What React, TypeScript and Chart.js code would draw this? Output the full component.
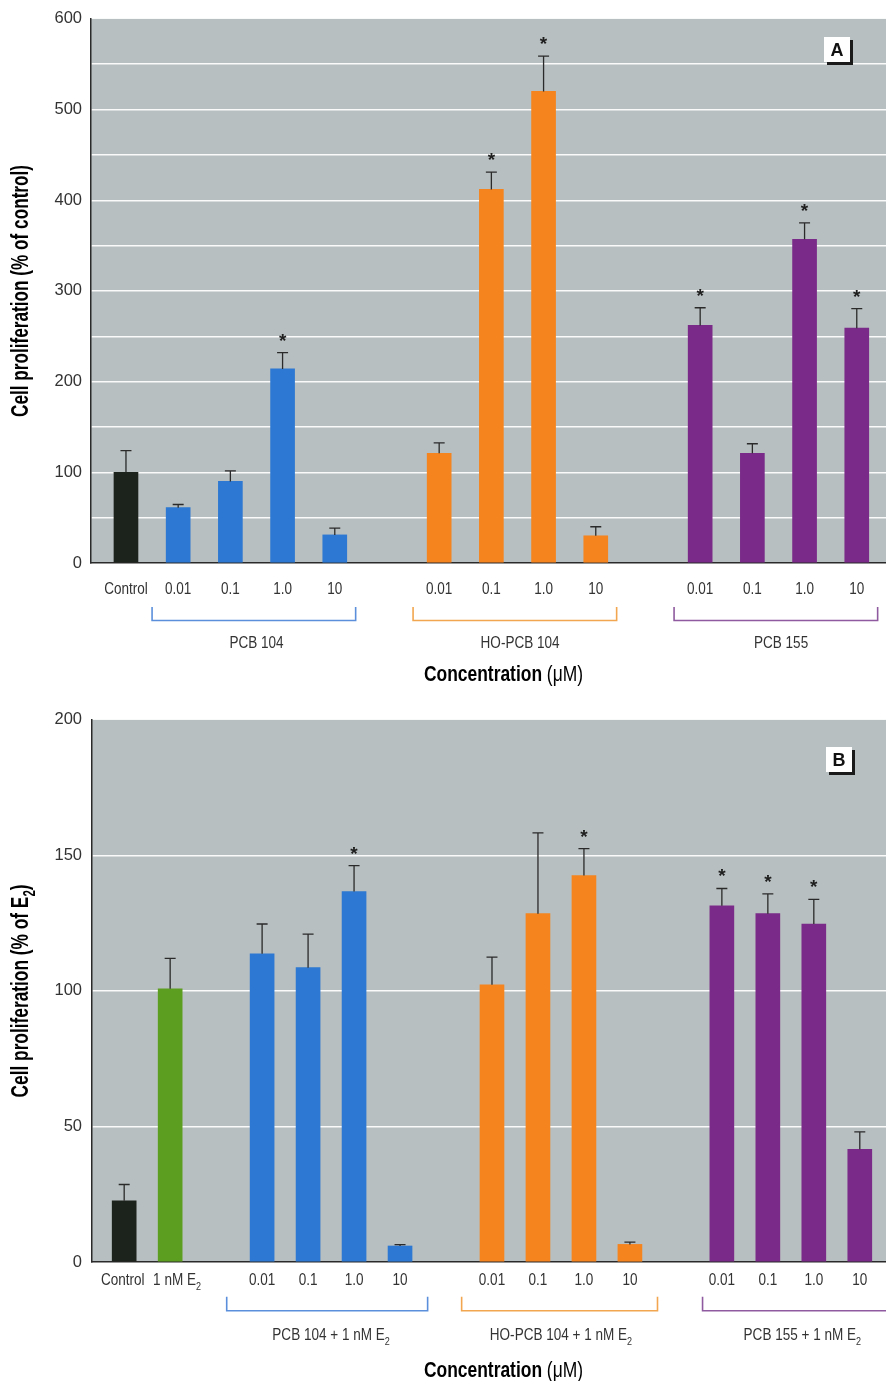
import React, { useEffect, useRef } from 'react';
import { Chart, registerables } from 'chart.js';
Chart.register(...registerables);

// ---------------- DATA: panel A ----------------
const CONC_TICKS = ['0.01', '0.1', '1.0', '10'];
const A_CONTROL_TICKS = ['Control'];
const A_CONTROL_VALUES = [100];
const A_CONTROL_ERRORS = [24];
const A_CONTROL_SIG = [false];
const A_PCB104_VALUES = [61, 90, 214, 31];
const A_PCB104_ERRORS = [3.5, 11.5, 18, 7.5];
const A_PCB104_SIG = [false, false, true, false];
const A_HOPCB104_VALUES = [121, 412, 520, 30];
const A_HOPCB104_ERRORS = [11.5, 19, 39, 10];
const A_HOPCB104_SIG = [false, true, true, false];
const A_PCB155_VALUES = [262, 121, 357, 259];
const A_PCB155_ERRORS = [19.5, 10.5, 18, 21.5];
const A_PCB155_SIG = [true, false, true, true];
const A_GROUP_NAMES = ['', 'PCB 104', 'HO-PCB 104', 'PCB 155'];
const A_GROUP_START = [0, 1, 6, 11];
const A_Y_TITLE = 'Cell proliferation (% of control)';

// ---------------- DATA: panel B ----------------
const B_CONTROL_TICKS = ['Control'];
const B_CONTROL_VALUES = [22.6];
const B_CONTROL_ERRORS = [6];
const B_CONTROL_SIG = [false];
const B_E2_TICKS = ['1 nM E_2'];
const B_E2_VALUES = [100.8];
const B_E2_ERRORS = [11.2];
const B_E2_SIG = [false];
const B_PCB104_VALUES = [113.7, 108.6, 136.7, 5.9];
const B_PCB104_ERRORS = [11, 12.4, 9.5, 0.5];
const B_PCB104_SIG = [false, false, true, false];
const B_HOPCB104_VALUES = [102.3, 128.5, 142.6, 6.5];
const B_HOPCB104_ERRORS = [10.2, 29.8, 9.9, 0.8];
const B_HOPCB104_SIG = [false, false, true, false];
const B_PCB155_VALUES = [131.4, 128.5, 124.7, 41.6];
const B_PCB155_ERRORS = [6.4, 7.3, 9.1, 6.4];
const B_PCB155_SIG = [true, true, true, false];
const B_GROUP_NAMES = ['', '', 'PCB 104 + 1 nM E_2', 'HO-PCB 104 + 1 nM E_2', 'PCB 155 + 1 nM E_2'];
const B_GROUP_START = [0, 1, 3, 8, 13];
const B_Y_TITLE = 'Cell proliferation (% of E_2)';

const X_TITLE_BOLD = 'Concentration ';
const X_TITLE_REG = '(\u03bcM)';

// ---------------- STYLE ----------------
const PLOT_BG = '#b8bfc0';
const AXIS = '#2a2a2a';
const TEXT = '#333333';
const ERR = '#2a2a2a';
const C_BLACK = '#1c231c';
const C_GREEN = '#5c9e1f';
const C_BLUE = '#2d78d2';
const C_ORANGE = '#f5841f';
const C_PURPLE = '#7a2a88';
const BR_BLUE = '#5b8fdc';
const BR_ORANGE = '#f2a650';
const BR_PURPLE = '#8f5a9f';

let narrowOK: boolean | null = null;
function narrowAvailable(): boolean {
  if (narrowOK !== null) return narrowOK;
  const c = document.createElement('canvas').getContext('2d')!;
  const s = 'Cell proliferation 0123';
  c.font = '20px monospace';
  const w1 = c.measureText(s).width;
  c.font = '20px "Liberation Sans Narrow", monospace';
  const w2 = c.measureText(s).width;
  narrowOK = Math.abs(w1 - w2) > 0.5;
  return narrowOK;
}
function fam() {
  return narrowAvailable() ? '"Liberation Sans Narrow", "Liberation Sans", sans-serif' : '"Liberation Sans", sans-serif';
}
function baseSX() {
  return narrowAvailable() ? 1 : 0.82;
}

type Seg = { t: string; bold: boolean; sub: boolean };
function segs(text: string, bold = false): Seg[] {
  const out: Seg[] = [];
  let buf = '';
  for (let i = 0; i < text.length; i++) {
    if (text[i] === '_' && i + 1 < text.length) {
      if (buf) out.push({ t: buf, bold, sub: false });
      buf = '';
      out.push({ t: text[i + 1], bold, sub: true });
      i++;
    } else buf += text[i];
  }
  if (buf) out.push({ t: buf, bold, sub: false });
  return out;
}
function segFont(s: Seg, size: number) {
  return `${s.bold ? 'bold ' : ''}${s.sub ? Math.round(size * 0.68) : size}px ${fam()}`;
}
function measureSegs(ctx: CanvasRenderingContext2D, list: Seg[], size: number) {
  let w = 0;
  for (const s of list) {
    ctx.font = segFont(s, size);
    w += ctx.measureText(s.t).width;
  }
  return w;
}
function drawSegs(ctx: CanvasRenderingContext2D, list: Seg[], x: number, y: number, size: number, color: string, align: string, sx: number) {
  ctx.save();
  ctx.translate(x, y);
  ctx.scale(sx, 1);
  const w = measureSegs(ctx, list, size);
  let cx = align === 'center' ? -w / 2 : align === 'right' ? -w : 0;
  ctx.fillStyle = color;
  ctx.textBaseline = 'alphabetic';
  ctx.textAlign = 'left';
  for (const s of list) {
    ctx.font = segFont(s, size);
    ctx.fillText(s.t, cx, s.sub ? size * 0.28 : 0);
    cx += ctx.measureText(s.t).width;
  }
  ctx.restore();
}

interface Group {
  ticks: string[];
  values: number[];
  errors: number[];
  sig: boolean[];
  color: string;
  start: number;
  name: string;
  bracketColor: string;
  pad: [number, number];
  tickShift: number;
  nameShift: number;
}
interface PanelCfg {
  groups: Group[];
  yMax: number;
  yLabelStep: number;
  xMin: number;
  xMax: number;
  yAxisWidth: number;
  yTickPad: number;
  padTop: number;
  xAxisHeight: number;
  yTitle: string;
  yTitleX: number;
  yTitleLen: number;
  tickDy: number;
  brTopDy: number;
  brLineDy: number;
  groupDy: number;
  titleDy: number;
  letter: string;
  letterX: number;
  letterY: number;
}

const panelA: PanelCfg = {
  groups: [
    { ticks: A_CONTROL_TICKS, values: A_CONTROL_VALUES, errors: A_CONTROL_ERRORS, sig: A_CONTROL_SIG, color: C_BLACK, start: A_GROUP_START[0], name: A_GROUP_NAMES[0], bracketColor: '', pad: [0, 0], tickShift: 0, nameShift: 0 },
    { ticks: CONC_TICKS, values: A_PCB104_VALUES, errors: A_PCB104_ERRORS, sig: A_PCB104_SIG, color: C_BLUE, start: A_GROUP_START[1], name: A_GROUP_NAMES[1], bracketColor: BR_BLUE, pad: [0.5, 0.4], tickShift: 0, nameShift: 0 },
    { ticks: CONC_TICKS, values: A_HOPCB104_VALUES, errors: A_HOPCB104_ERRORS, sig: A_HOPCB104_SIG, color: C_ORANGE, start: A_GROUP_START[2], name: A_GROUP_NAMES[2], bracketColor: BR_ORANGE, pad: [0.5, 0.4], tickShift: 0, nameShift: 0.05 },
    { ticks: CONC_TICKS, values: A_PCB155_VALUES, errors: A_PCB155_ERRORS, sig: A_PCB155_SIG, color: C_PURPLE, start: A_GROUP_START[3], name: A_GROUP_NAMES[3], bracketColor: BR_PURPLE, pad: [0.5, 0.4], tickShift: 0, nameShift: 0.05 },
  ],
  yMax: 600,
  yLabelStep: 100,
  xMin: -0.67,
  xMax: 14.56,
  yAxisWidth: 91,
  yTickPad: 9,
  padTop: 17,
  xAxisHeight: 137,
  yTitle: A_Y_TITLE,
  yTitleX: 28,
  yTitleLen: 252,
  tickDy: 31,
  brTopDy: 44,
  brLineDy: 57.5,
  groupDy: 84.5,
  titleDy: 118,
  letter: 'A',
  letterX: 824,
  letterY: 37,
};

const panelB: PanelCfg = {
  groups: [
    { ticks: B_CONTROL_TICKS, values: B_CONTROL_VALUES, errors: B_CONTROL_ERRORS, sig: B_CONTROL_SIG, color: C_BLACK, start: B_GROUP_START[0], name: B_GROUP_NAMES[0], bracketColor: '', pad: [0, 0], tickShift: -0.03, nameShift: 0 },
    { ticks: B_E2_TICKS, values: B_E2_VALUES, errors: B_E2_ERRORS, sig: B_E2_SIG, color: C_GREEN, start: B_GROUP_START[1], name: B_GROUP_NAMES[1], bracketColor: '', pad: [0, 0], tickShift: 0.15, nameShift: 0 },
    { ticks: CONC_TICKS, values: B_PCB104_VALUES, errors: B_PCB104_ERRORS, sig: B_PCB104_SIG, color: C_BLUE, start: B_GROUP_START[2], name: B_GROUP_NAMES[2], bracketColor: BR_BLUE, pad: [0.77, 0.6], tickShift: 0, nameShift: 0 },
    { ticks: CONC_TICKS, values: B_HOPCB104_VALUES, errors: B_HOPCB104_ERRORS, sig: B_HOPCB104_SIG, color: C_ORANGE, start: B_GROUP_START[3], name: B_GROUP_NAMES[3], bracketColor: BR_ORANGE, pad: [0.66, 0.6], tickShift: 0, nameShift: 0 },
    { ticks: CONC_TICKS, values: B_PCB155_VALUES, errors: B_PCB155_ERRORS, sig: B_PCB155_SIG, color: C_PURPLE, start: B_GROUP_START[4], name: B_GROUP_NAMES[4], bracketColor: BR_PURPLE, pad: [0.42, 0.6], tickShift: 0, nameShift: 0.25 },
  ],
  yMax: 200,
  yLabelStep: 50,
  xMin: -0.7,
  xMax: 16.57,
  yAxisWidth: 92,
  yTickPad: 10,
  padTop: 15,
  xAxisHeight: 119,
  yTitle: B_Y_TITLE,
  yTitleX: 28,
  yTitleLen: 213,
  tickDy: 23,
  brTopDy: 34.7,
  brLineDy: 48.7,
  groupDy: 78,
  titleDy: 115,
  letter: 'B',
  letterX: 826,
  letterY: 47,
};

function makePlugin(cfg: PanelCfg) {
  return {
    id: 'panelDecor',
    beforeDraw(chart: any) {
      const { ctx, chartArea: a } = chart;
      ctx.save();
      ctx.fillStyle = PLOT_BG;
      ctx.fillRect(a.left, a.top, a.right - a.left, a.bottom - a.top);
      ctx.restore();
    },
    afterDatasetsDraw(chart: any) {
      const ctx: CanvasRenderingContext2D = chart.ctx;
      const ys = chart.scales.y;
      cfg.groups.forEach((g, di) => {
        const meta = chart.getDatasetMeta(di);
        meta.data.forEach((el: any, i: number) => {
          const x = el.x;
          const y0 = ys.getPixelForValue(g.values[i]);
          const y1 = ys.getPixelForValue(g.values[i] + g.errors[i]);
          ctx.save();
          ctx.strokeStyle = ERR;
          ctx.lineWidth = 1.3;
          ctx.beginPath();
          ctx.moveTo(x, y0);
          ctx.lineTo(x, y1);
          ctx.moveTo(x - 5.5, y1);
          ctx.lineTo(x + 5.5, y1);
          ctx.stroke();
          if (g.sig[i]) {
            ctx.fillStyle = '#1e1e1e';
            ctx.font = 'bold 19px "Liberation Sans", sans-serif';
            ctx.textAlign = 'center';
            ctx.textBaseline = 'alphabetic';
            ctx.fillText('*', x, y1 - 6);
          }
          ctx.restore();
        });
      });
    },
    afterDraw(chart: any) {
      const ctx: CanvasRenderingContext2D = chart.ctx;
      const a = chart.chartArea;
      const xs = chart.scales.x;
      const sx = baseSX();
      cfg.groups.forEach((g) => {
        g.ticks.forEach((t, i) => {
          drawSegs(ctx, segs(t), xs.getPixelForValue(g.start + i + g.tickShift), a.bottom + cfg.tickDy, 16.5, TEXT, 'center', sx);
        });
        if (g.name) {
          const n = g.values.length;
          const x0 = xs.getPixelForValue(g.start - g.pad[0]);
          const x1 = xs.getPixelForValue(g.start + n - 1 + g.pad[1]);
          const yt = a.bottom + cfg.brTopDy;
          const yl = a.bottom + cfg.brLineDy;
          ctx.save();
          ctx.strokeStyle = g.bracketColor;
          ctx.lineWidth = 1.6;
          ctx.beginPath();
          ctx.moveTo(x0, yt);
          ctx.lineTo(x0, yl);
          ctx.lineTo(x1, yl);
          ctx.lineTo(x1, yt);
          ctx.stroke();
          ctx.restore();
          drawSegs(ctx, segs(g.name), xs.getPixelForValue(g.start + (n - 1) / 2 + g.nameShift), a.bottom + cfg.groupDy, 16.5, TEXT, 'center', sx);
        }
      });
      // x title
      const tl: Seg[] = [
        { t: X_TITLE_BOLD, bold: true, sub: false },
        { t: X_TITLE_REG, bold: false, sub: false },
      ];
      ctx.save();
      const tw = measureSegs(ctx, tl, 22);
      ctx.restore();
      drawSegs(ctx, tl, 503.5, a.bottom + cfg.titleDy, 22, '#000', 'center', 159 / tw);
      // y title
      const yl = segs(cfg.yTitle, true);
      ctx.save();
      const yw = measureSegs(ctx, yl, 24);
      ctx.translate(cfg.yTitleX, (a.top + a.bottom) / 2);
      ctx.rotate(-Math.PI / 2);
      drawSegs(ctx, yl, 0, 0, 24, '#000', 'center', cfg.yTitleLen / yw);
      ctx.restore();
      // panel letter
      ctx.save();
      ctx.fillStyle = '#1a1a1a';
      ctx.fillRect(cfg.letterX + 3, cfg.letterY + 3, 26, 25);
      ctx.fillStyle = '#ffffff';
      ctx.fillRect(cfg.letterX, cfg.letterY, 26, 25);
      ctx.fillStyle = '#111';
      ctx.font = 'bold 18px "Liberation Sans", sans-serif';
      ctx.textAlign = 'center';
      ctx.textBaseline = 'alphabetic';
      ctx.fillText(cfg.letter, cfg.letterX + 13, cfg.letterY + 19);
      ctx.restore();
    },
  };
}

function buildConfig(cfg: PanelCfg): any {
  return {
    type: 'bar',
    data: {
      datasets: cfg.groups.map((g) => ({
        data: g.values.map((v, i) => ({ x: g.start + i, y: v })),
        backgroundColor: g.color,
        borderWidth: 0,
        barThickness: 24,
        grouped: false,
      })),
    },
    options: {
      responsive: false,
      animation: false,
      events: [],
      layout: { padding: { top: cfg.padTop, left: 0, right: 0, bottom: 0 } },
      plugins: { legend: { display: false }, tooltip: { enabled: false }, title: { display: false } },
      scales: {
        x: {
          type: 'linear',
          offset: false,
          min: cfg.xMin,
          max: cfg.xMax,
          grid: { display: false, offset: false },
          ticks: { display: false },
          border: { display: true, color: AXIS, width: 1.5 },
          afterFit: (s: any) => {
            s.height = cfg.xAxisHeight;
          },
        },
        y: {
          type: 'linear',
          min: 0,
          max: cfg.yMax,
          ticks: {
            stepSize: 50,
            autoSkip: false,
            padding: cfg.yTickPad,
            color: TEXT,
            font: { family: fam(), size: 16.5 },
            callback: (v: number) => (v % cfg.yLabelStep === 0 ? String(v) : ''),
          },
          grid: {
            drawTicks: false,
            lineWidth: 1.5,
            color: (c: any) => {
              const v = c.tick ? c.tick.value : 0;
              return v === 0 || v === cfg.yMax ? 'rgba(0,0,0,0)' : 'rgba(255,255,255,0.92)';
            },
          },
          border: { display: true, color: AXIS, width: 1.5 },
          afterFit: (s: any) => {
            s.width = cfg.yAxisWidth;
          },
        },
      },
    },
    plugins: [makePlugin(cfg)],
  };
}

function Panel({ cfg, top, height }: { cfg: PanelCfg; top: number; height: number }) {
  const ref = useRef<HTMLCanvasElement>(null);
  useEffect(() => {
    const chart = new Chart(ref.current!, buildConfig(cfg));
    return () => chart.destroy();
  }, [cfg]);
  return (
    <canvas
      ref={ref}
      width={886}
      height={height}
      style={{ position: 'absolute', left: 0, top, width: 886, height, display: 'block' }}
    />
  );
}

export default function App() {
  return (
    <div style={{ position: 'absolute', left: 0, top: 0, width: 886, height: 1381, background: '#ffffff', overflow: 'hidden' }}>
      <Panel cfg={panelA} top={0} height={700} />
      <Panel cfg={panelB} top={700} height={681} />
    </div>
  );
}
